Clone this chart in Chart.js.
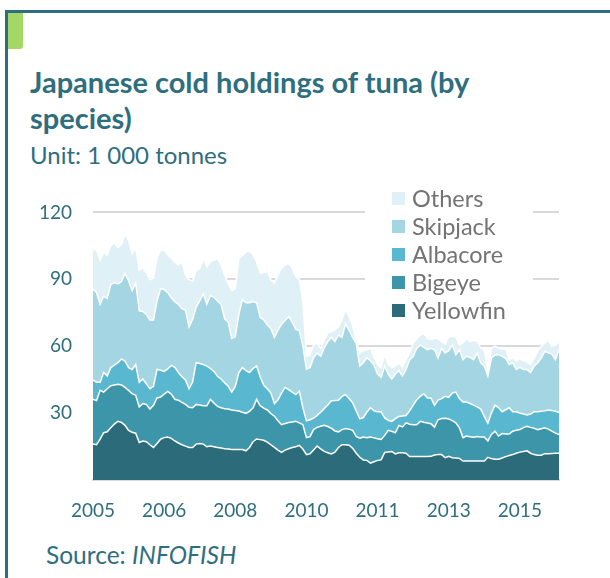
<!DOCTYPE html>
<html>
<head>
<meta charset="utf-8">
<script src="https://cdn.jsdelivr.net/npm/chart.js@4/dist/chart.umd.min.js"></script>
<style>
  body { margin: 0; width: 610px; height: 578px; background: #fff; overflow: hidden; position: relative; font-family: Lato, "Open Sans", sans-serif; }
  #frame-top { position: absolute; left: 5px; top: 10px; width: 605px; height: 3px; background: #2f6e7e; }
  #frame-left { position: absolute; left: 5px; top: 10px; width: 3px; height: 568px; background: #2f6e7e; }
  #tab { position: absolute; left: 8px; top: 13px; width: 15px; height: 36px; background: #a4d866; border-bottom-right-radius: 3px; }
  #title { position: absolute; left: 30px; top: 64px; width: 500px; color: #2e6e7e; font-weight: bold; font-size: 29px; line-height: 36px; }
  #unit { position: absolute; left: 30px; top: 141px; color: #2e6e7e; font-size: 24px; line-height: 28px; }
  #source { position: absolute; left: 46px; top: 541px; color: #2e6e7e; font-size: 24.5px; line-height: 28px; }
  #source i { font-style: italic; }
  #chart-wrap { position: absolute; left: 0; top: 180px; }
  #legend { position: absolute; left: 365px; top: 184px; width: 168px; height: 136px; background: #fff; }
  .item { position: absolute; left: 27px; height: 28px; color: #737373; font-size: 23.5px; line-height: 28px; }
  .item span { position: absolute; left: 0; top: 8px; width: 13px; height: 13px; }
  .item b { font-weight: normal; position: absolute; left: 20px; white-space: nowrap; }
</style>
</head>
<body>
<div id="frame-top"></div>
<div id="frame-left"></div>
<div id="tab"></div>
<div id="title">Japanese cold holdings of tuna (by species)</div>
<div id="unit">Unit: 1 000 tonnes</div>
<div id="chart-wrap"><canvas id="tuna" width="600" height="345"></canvas></div>
<div id="legend"></div>
<div id="source">Source: <i>INFOFISH</i></div>
<script>
// monthly stocks, Jan 2005 - Dec 2015, thousand tonnes
const yellowfin = [
  16.1,15.8,18.3,21.2,21.6,23.4,25.1,26.3,25.8,24.5,
  22.2,21.4,21.0,16.8,17.5,17.2,15.8,14.6,16.4,18.3,
  19.0,19.3,18.7,17.5,16.6,15.8,15.2,14.6,14.6,16.1,
  16.4,16.1,14.9,15.2,14.9,14.6,14.3,14.0,13.9,13.7,
  13.7,13.7,13.7,13.1,14.6,17.2,18.4,18.1,17.8,17.0,
  15.8,14.6,13.4,12.4,13.4,14.0,14.6,14.9,15.5,13.9,
  11.4,11.7,13.4,15.2,14.0,12.8,12.2,11.7,12.5,14.6,
  15.8,15.8,15.6,14.2,12.0,10.2,9.0,8.8,7.6,8.2,
  8.8,9.0,12.4,12.6,12.8,11.7,12.2,12.2,12.0,10.5,
  10.5,10.5,10.5,10.5,10.5,10.6,11.2,11.4,11.4,10.0,
  10.6,10.0,9.9,9.7,8.5,8.5,8.5,8.5,8.5,8.5,
  8.5,10.2,9.6,9.3,9.3,9.9,10.5,11.0,11.4,12.0,
  12.5,12.8,13.1,12.0,11.4,11.1,11.1,11.8,11.8,11.9,12.0,12.0
];
const bigeye = [
  20.1,19.8,21.9,18.2,19.3,18.9,17.5,16.6,16.8,17.0,
  18.0,17.3,17.0,16.0,16.8,16.7,16.0,18.9,20.4,18.9,
  19.5,20.4,19.8,18.7,19.2,19.0,18.7,18.0,17.8,17.8,
  17.2,17.2,18.4,21.0,19.6,18.4,18.1,18.0,17.9,17.7,
  17.5,17.2,16.7,16.8,16.2,15.2,17.8,15.2,14.4,14.4,
  14.0,14.0,13.2,12.4,11.9,11.8,11.4,11.4,10.1,10.9,
  7.6,7.8,9.2,8.4,10.1,11.7,11.8,11.5,9.5,7.0,
  6.8,7.3,7.2,8.1,7.5,8.5,10.3,10.2,11.7,10.7,
  9.7,9.2,7.6,9.7,9.0,9.5,12.3,11.6,13.6,14.5,
  14.3,14.3,15.8,15.4,15.1,14.6,12.5,15.6,16.2,17.7,
  16.8,16.6,15.7,13.7,10.5,11.2,10.9,10.7,11.0,10.8,
  10.8,7.3,10.8,12.6,10.4,10.9,10.1,9.6,10.5,10.3,
  10.1,10.7,11.0,11.6,11.8,11.5,11.9,11.6,11.0,10.0,9.0,8.4
];
const albacore = [
  8.7,8.2,3.6,8.8,5.8,8.1,8.9,9.7,11.7,11.8,
  10.2,10.8,13.8,11.0,11.0,9.2,9.1,8.5,12.8,12.0,
  10.2,10.1,12.9,14.3,12.4,11.5,11.0,8.3,11.6,18.7,
  18.6,18.5,17.8,13.8,14.2,13.5,12.9,11.6,10.2,8.0,
  10.8,17.3,20.0,19.1,17.4,17.6,14.9,13.0,10.3,9.5,
  9.2,5.7,9.4,14.2,16.2,14.7,13.4,12.0,14.2,7.6,
  7.5,7.5,5.1,5.4,6.3,7.5,9.6,12.3,13.6,14.2,
  14.9,15.2,13.7,12.3,11.5,8.7,8.7,11.5,13.1,12.1,
  12.1,12.4,7.8,4.5,4.5,6.3,4.0,4.9,3.3,6.0,
  8.8,11.2,11.2,12.8,11.2,11.6,9.8,8.8,8.9,9.8,
  9.6,12.4,13.8,13.1,16.0,15.3,14.9,14.4,13.3,12.5,
  9.2,8.0,9.6,11.7,12.8,9.8,10.9,11.8,8.7,8.3,
  7.4,6.1,5.1,6.0,7.4,8.0,7.8,7.6,8.6,9.3,9.8,9.8
];
const skipjack = [
  40.9,40.2,35.0,34.3,34.7,37.2,37.0,35.3,34.7,39.4,
  38.9,35.5,36.6,32.1,30.3,31.1,30.9,29.8,30.7,36.6,
  36.7,34.2,30.3,29.5,30.6,30.5,31.3,27.7,28.0,24.8,
  28.1,31.7,27.7,32.5,33.3,33.8,33.5,28.7,28.8,24.1,
  22.2,26.2,30.6,30.5,31.3,30.0,28.4,26.7,29.3,28.6,
  28.9,29.6,31.2,30.8,30.0,32.8,31.4,29.2,27.2,27.6,
  23.2,23.4,27.1,28.0,25.1,27.2,28.4,28.5,26.4,29.2,
  26.5,31.8,30.7,29.4,30.3,23.7,24.6,24.3,21.1,20.5,
  16.9,15.4,23.3,20.7,19.0,20.0,20.5,18.0,20.7,22.9,
  21.8,23.0,23.1,20.8,21.6,22.3,24.9,18.9,22.6,19.5,
  21.0,21.6,16.8,21.9,19.0,20.5,20.7,20.4,24.2,20.8,
  22.6,21.2,24.7,22.4,23.7,24.9,23.0,19.4,21.9,19.0,
  20.5,20.0,20.4,18.6,20.5,21.9,23.9,26.7,25.6,25.3,23.2,28.2
];
const others = [
  17.9,18.9,19.7,19.6,19.3,17.5,17.8,16.4,16.4,17.7,
  18.0,16.4,15.9,18.2,19.6,18.8,18.0,18.7,19.0,17.5,
  17.5,17.0,17.8,17.8,17.5,21.0,15.8,21.2,17.3,16.7,
  14.5,15.8,16.8,15.6,16.5,19.0,17.5,19.7,17.2,21.5,
  21.6,24.9,19.7,22.6,23.3,21.0,18.3,19.7,21.2,23.9,
  21.9,24.4,24.8,25.2,24.8,23.8,24.2,23.7,23.0,20.0,
  5.8,5.6,5.7,4.3,3.5,3.5,4.0,2.5,5.2,3.6,
  8.0,6.6,5.8,5.0,1.2,5.9,5.4,3.6,5.6,3.3,
  4.3,4.4,5.1,4.3,5.1,3.6,3.6,3.7,4.4,3.1,
  5.9,4.5,4.3,6.2,5.1,3.9,5.1,8.8,2.9,4.0,
  6.2,3.9,8.0,2.2,7.5,8.0,7.0,8.5,5.5,6.5,
  6.9,2.2,4.4,4.0,2.9,3.0,4.5,2.2,2.5,3.7,
  4.0,3.9,3.4,3.6,3.6,5.2,5.3,3.6,5.8,3.4,6.5,3.6
];

const seriesNames = ['Yellowfin', 'Bigeye', 'Albacore', 'Skipjack', 'Others'];
const seriesColors = ['#2b6b7a', '#3d95aa', '#59b8cf', '#a3d5e3', '#dff0f6'];
const yTicks = [30, 60, 90, 120];

// one label per month; only every 20th month gets its year shown
const months = [];
for (let y = 2005; y <= 2015; y++) {
  for (let m = 1; m <= 12; m++) months.push(y + '-' + String(m).padStart(2, '0'));
}

const teal = '#2e6e7e';
const allSeries = [yellowfin, bigeye, albacore, skipjack, others];

const ctx = document.getElementById('tuna').getContext('2d');
const tunaChart = new Chart(ctx, {
  type: 'line',
  data: {
    labels: months,
    datasets: allSeries.map((vals, i) => ({
      label: seriesNames[i],
      data: vals,
      backgroundColor: seriesColors[i],
      borderColor: '#ffffff',
      borderWidth: 1.5,
      pointRadius: 0,
      tension: 0,
      fill: i === 0 ? 'origin' : '-1'
    }))
  },
  options: {
    responsive: false,
    animation: false,
    layout: { padding: { top: 20, right: 41, left: 0, bottom: 0 } },
    plugins: {
      legend: { display: false },
      tooltip: { enabled: false }
    },
    scales: {
      x: {
        grid: { display: false },
        border: { display: true, color: '#d9d9d9', width: 2 },
        ticks: {
          autoSkip: false,
          maxRotation: 0,
          padding: 11,
          color: teal,
          font: { family: 'Lato', size: 19 },
          callback: function (value, index) {
            return index % 20 === 0 ? months[index].slice(0, 4) : '';
          }
        },
        afterFit: function (scale) { scale.height = 45; }
      },
      y: {
        stacked: true,
        min: 0,
        max: 120,
        grid: { color: '#d9d9d9', lineWidth: 2, drawTicks: false },
        border: { display: false },
        ticks: {
          stepSize: 30,
          padding: 21,
          color: teal,
          font: { family: 'Lato', size: 19 },
          callback: function (value) {
            return yTicks.includes(value) ? value : '';
          }
        },
        afterFit: function (scale) { scale.width = 93; }
      }
    }
  }
});

// legend, top entry = top layer
const legend = document.getElementById('legend');
tunaChart.data.datasets.slice().reverse().forEach((ds, k) => {
  const item = document.createElement('div');
  item.className = 'item';
  item.style.top = (k * 28) + 'px';
  item.innerHTML = `<span style="background:${ds.backgroundColor}"></span><b>${ds.label}</b>`;
  legend.appendChild(item);
});
</script>
</body>
</html>
